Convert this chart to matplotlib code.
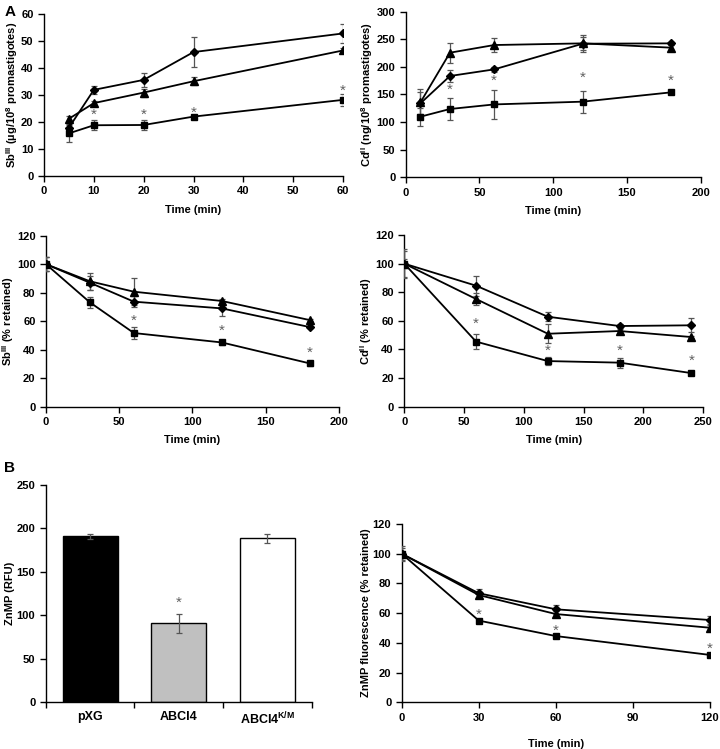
import matplotlib
matplotlib.use("Agg")
import matplotlib.pyplot as plt

plt.rcParams["font.family"] = ["Liberation Sans", "DejaVu Sans"]
plt.rcParams["font.weight"] = "bold"
plt.rcParams["mathtext.fontset"] = "custom"
plt.rcParams["mathtext.rm"] = "Liberation Sans:bold"
plt.rcParams["mathtext.it"] = "Liberation Sans:bold"
plt.rcParams["mathtext.bf"] = "Liberation Sans:bold"

# ---- panel A1: Sb(III) uptake
sb_up_t = [5, 10, 20, 30, 60]
sb_up_dia = [17.9, 31.9, 35.6, 45.9, 52.8]
sb_up_dia_err = [1.0, 1.5, 2.6, 5.5, 3.5]
sb_up_tri = [21.2, 27.0, 30.9, 35.1, 46.5]
sb_up_tri_err = [1.2, 0.8, 1.5, 1.5, 0.8]
sb_up_sq = [15.8, 18.8, 18.9, 22.0, 28.2]
sb_up_sq_err = [3.3, 1.8, 2.0, 0.5, 2.2]
sb_up_star_t = [10, 20, 30, 60]
sb_up_star_y = [22.5, 22.5, 23.5, 31.5]

# ---- panel A2: Cd(II) uptake
cd_up_t = [10, 30, 60, 120, 180]
cd_up_dia = [134, 183.5, 195.5, 242, 242.6]
cd_up_dia_err = [20, 10, 4, 12, 3]
cd_up_tri = [135.8, 225.7, 239.6, 242.6, 234.8]
cd_up_tri_err = [25, 18, 12, 15, 4]
cd_up_sq = [109.8, 123.7, 132, 137, 153.9]
cd_up_sq_err = [16, 20, 26, 20, 2]
cd_up_star_t = [30, 60, 120, 180]
cd_up_star_y = [158, 175, 180, 175]

# ---- panel A3: Sb(III) efflux
sb_ef_t = [0, 30, 60, 120, 180]
sb_ef_dia = [100, 87, 73.7, 69.0, 55.9]
sb_ef_dia_err = [5, 5, 4, 5, 1]
sb_ef_tri = [100, 88, 80.7, 74.2, 60.8]
sb_ef_tri_err = [5, 6, 9.5, 1.5, 1]
sb_ef_sq = [100, 73.2, 51.7, 45.1, 30.4]
sb_ef_sq_err = [5, 4, 4, 2, 2]
sb_ef_star_t = [60, 120, 180]
sb_ef_star_y = [60, 53, 38]

# ---- panel A4: Cd(II) efflux
cd_ef_t = [0, 60, 120, 180, 240]
cd_ef_dia = [100, 84.6, 62.9, 56.4, 56.9]
cd_ef_dia_err = [10, 7, 3, 1.5, 5]
cd_ef_tri = [100, 75.3, 51.0, 52.9, 48.7]
cd_ef_tri_err = [9, 4, 6.5, 1.5, 1]
cd_ef_sq = [100, 45.5, 31.9, 30.8, 23.5]
cd_ef_sq_err = [3, 5, 3, 3.5, 1]
cd_ef_star_t = [60, 120, 180, 240]
cd_ef_star_y = [58, 39, 39, 32]

# ---- panel B1: ZnMP accumulation
bar_labels = ["pXG", "ABCI4", "ABCI4$^{K/M}$"]
bar_vals = [191, 90.9, 188.7]
bar_err = [3, 11, 5]
bar_colors = ["black", "#c0c0c0", "white"]
bar_star_y = [None, 114, None]

# ---- panel B2: ZnMP efflux
zn_ef_t = [0, 30, 60, 120]
zn_ef_dia = [100, 73.4, 62.6, 55.4]
zn_ef_dia_err = [4, 3, 3, 3]
zn_ef_tri = [100, 72.2, 59.4, 50.2]
zn_ef_tri_err = [5, 2, 2, 2]
zn_ef_sq = [100, 55.0, 44.6, 31.9]
zn_ef_sq_err = [2, 1, 1, 1]
zn_ef_star_t = [30, 60, 120]
zn_ef_star_y = [59, 48, 36]

fig = plt.figure(figsize=(7.2, 7.49), dpi=100)

TICK = dict(labelsize=8, width=1, length=4, direction="out")
ERR = "#555555"


def style(ax):
    for s in ("top", "right"):
        ax.spines[s].set_visible(False)
    for s in ("left", "bottom"):
        ax.spines[s].set_linewidth(1)
    ax.tick_params(**TICK)
    for lab in ax.get_xticklabels() + ax.get_yticklabels():
        lab.set_fontweight("bold")


def lines(ax, t, series, stars_t, stars_y):
    for y, e, m, ms in series:
        ax.errorbar(t, y, yerr=e, color="black", ecolor=ERR, elinewidth=0.9,
                    capsize=2.5, capthick=0.9, marker=m, ms=ms, lw=1.3, zorder=3)
    for x, y in zip(stars_t, stars_y):
        ax.text(x, y, "*", ha="center", va="center", fontsize=11,
                color="#606060", fontweight="normal")


def timeax(ax, xlim, xticks, ylim, yticks, ylabel):
    ax.set_xlim(*xlim); ax.set_xticks(xticks)
    ax.set_ylim(*ylim); ax.set_yticks(yticks)
    ax.set_xlabel("Time (min)", fontsize=8, fontweight="bold", labelpad=6)
    ax.set_ylabel(ylabel, fontsize=8, fontweight="bold", labelpad=1)
    style(ax)


ax1 = fig.add_axes([0.0611, 0.765, 0.4153, 0.2163])
lines(ax1, sb_up_t, [(sb_up_dia, sb_up_dia_err, "D", 4.5),
                     (sb_up_tri, sb_up_tri_err, "^", 5.5),
                     (sb_up_sq, sb_up_sq_err, "s", 5)],
      sb_up_star_t, sb_up_star_y)
timeax(ax1, (0, 60), range(0, 61, 10), (0, 60), range(0, 61, 10),
       "Sb$^{III}$ (µg/10$^{8}$ promastigotes)")

ax2 = fig.add_axes([0.5635, 0.7633, 0.4097, 0.2211])
lines(ax2, cd_up_t, [(cd_up_dia, cd_up_dia_err, "D", 4.5),
                     (cd_up_tri, cd_up_tri_err, "^", 5.5),
                     (cd_up_sq, cd_up_sq_err, "s", 5)],
      cd_up_star_t, cd_up_star_y)
timeax(ax2, (0, 200), range(0, 201, 50), (0, 300), range(0, 301, 50),
       "Cd$^{II}$ (ng/10$^{8}$ promastigotes)")

ax3 = fig.add_axes([0.0639, 0.457, 0.4069, 0.2283])
lines(ax3, sb_ef_t, [(sb_ef_dia, sb_ef_dia_err, "D", 4.5),
                     (sb_ef_tri, sb_ef_tri_err, "^", 5.5),
                     (sb_ef_sq, sb_ef_sq_err, "s", 5)],
      sb_ef_star_t, sb_ef_star_y)
timeax(ax3, (0, 200), range(0, 201, 50), (0, 120), range(0, 121, 20),
       "Sb$^{III}$ (% retained)")

ax4 = fig.add_axes([0.5615, 0.457, 0.4153, 0.2292])
lines(ax4, cd_ef_t, [(cd_ef_dia, cd_ef_dia_err, "D", 4.5),
                     (cd_ef_tri, cd_ef_tri_err, "^", 5.5),
                     (cd_ef_sq, cd_ef_sq_err, "s", 5)],
      cd_ef_star_t, cd_ef_star_y)
timeax(ax4, (0, 250), range(0, 251, 50), (0, 120), range(0, 121, 20),
       "Cd$^{II}$ (% retained)")

# bars
ax5 = fig.add_axes([0.0635, 0.0623, 0.3694, 0.2902])
pos = list(range(len(bar_vals)))
ax5.bar(pos, bar_vals, width=0.62, color=bar_colors, edgecolor="black",
        linewidth=1, yerr=bar_err, ecolor=ERR,
        error_kw=dict(elinewidth=0.9, capsize=2.5, capthick=0.9))
for x, y in zip(pos, bar_star_y):
    if y is not None:
        ax5.text(x, y, "*", ha="center", va="center", fontsize=11,
                 color="#606060", fontweight="normal")
ax5.set_xlim(-0.5, 2.5)
ax5.set_ylim(0, 250)
ax5.set_yticks(range(0, 251, 50))
ax5.set_xticks([-0.5, 0.5, 1.5, 2.5])
ax5.set_xticklabels([])
ax5.set_xticks(pos, minor=True)
ax5.set_xticklabels(bar_labels, minor=True, fontsize=9, fontweight="bold")
ax5.tick_params(axis="x", which="minor", length=0, pad=6)
ax5.set_ylabel("ZnMP (RFU)", fontsize=8, fontweight="bold", labelpad=1)
style(ax5)

ax6 = fig.add_axes([0.5579, 0.0623, 0.4282, 0.2381])
lines(ax6, zn_ef_t, [(zn_ef_dia, zn_ef_dia_err, "D", 4.5),
                     (zn_ef_tri, zn_ef_tri_err, "^", 5.5),
                     (zn_ef_sq, zn_ef_sq_err, "s", 5)],
      zn_ef_star_t, zn_ef_star_y)
timeax(ax6, (0, 120), range(0, 121, 30), (0, 120), range(0, 121, 20),
       "ZnMP fluorescence (% retained)")
ax6.xaxis.labelpad = 12

fig.text(0.006, 0.993, "A", fontsize=11, fontweight="bold", va="top")
fig.text(0.006, 0.385, "B", fontsize=11, fontweight="bold", va="top")

fig.savefig("out.png", dpi=100)
